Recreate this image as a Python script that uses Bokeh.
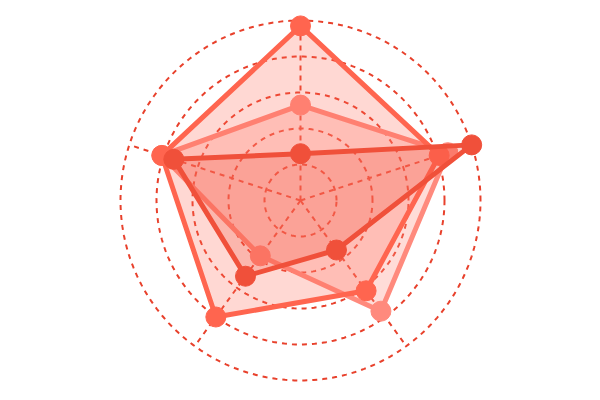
import numpy as np

from bokeh.plotting import figure
from bokeh.embed import file_html
from bokeh.resources import INLINE

# radar data, 0..100 on each of 5 axes (top, then counter-clockwise)
axes_names = ["A", "B", "C", "D", "E"]
series_b = [53, 81, 38, 76, 86]
series_a = [97, 81, 80, 62, 81]
series_c = [26, 74, 52, 34, 100]
rings = [20, 40, 60, 80, 100]

R = 180.0  # pixels for value 100
angles = np.deg2rad(90 + 72 * np.arange(len(axes_names)))


def to_xy(vals):
    r = np.array(vals) / 100.0 * R
    return r * np.cos(angles), r * np.sin(angles)


# page lands at the window's top-left, so centre the radar at (300, 200)
p = figure(width=584, height=384, x_range=(-300, 284), y_range=(-184, 200),
           output_backend="svg", toolbar_location=None, min_border=0)
p.axis.visible = False
p.grid.visible = False
p.outline_line_color = None
p.background_fill_color = "white"

grid_col = "#e8412c"
# rings
t = np.linspace(0, 2 * np.pi, 240)
for rv in rings:
    rr = rv / 100.0 * R
    p.line(rr * np.cos(t), rr * np.sin(t), line_color=grid_col,
           line_width=2, line_dash="5 5")
# spokes
for a in angles:
    p.line([0, R * np.cos(a)], [0, R * np.sin(a)], line_color=grid_col,
           line_width=2, line_dash="5 5")

styles = [
    (series_b, "#ff8a7d", 0.30),
    (series_a, "#ff654f", 0.25),
    (series_c, "#f0503a", 0.25),
]
for vals, col, fa in styles:
    x, y = to_xy(vals)
    p.patch(list(x) + [x[0]], list(y) + [y[0]], fill_color=col, fill_alpha=fa,
            line_color=col, line_width=5, line_join="round")
    p.scatter(x, y, size=20, fill_color=col, line_color=col, line_width=1)

open("out.html", "w").write(file_html(p, INLINE))
